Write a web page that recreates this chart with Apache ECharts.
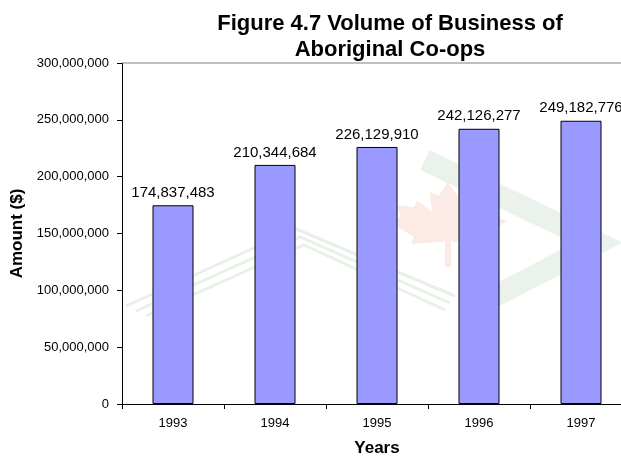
<!DOCTYPE html>
<html>
<head>
<meta charset="utf-8">
<script src="https://cdn.jsdelivr.net/npm/echarts@6/dist/echarts.min.js"></script>
<style>html,body{margin:0;padding:0;background:#fff;}#c{width:621px;height:459px;}</style>
</head>
<body>
<div id="c"></div>
<script>
var years = ['1993', '1994', '1995', '1996', '1997'];
var amounts = [174837483, 210344684, 226129910, 242126277, 249182776];
var yTicks = [0, 50000000, 100000000, 150000000, 200000000, 250000000, 300000000];

function fmt(v) { return String(v).replace(/\B(?=(\d{3})+(?!\d))/g, ','); }

// faint background watermark (decoration only)
var leafUnit = [[0,-1],[0.15,-0.7],[0.3,-0.78],[0.25,-0.35],[0.5,-0.6],[0.55,-0.45],[0.85,-0.5],[0.75,-0.25],[0.95,-0.15],[0.55,0.2],[0.6,0.35],[0.05,0.3],[0.05,0.85],[-0.05,0.85],[-0.05,0.3],[-0.6,0.35],[-0.55,0.2],[-0.95,-0.15],[-0.75,-0.25],[-0.85,-0.5],[-0.55,-0.45],[-0.5,-0.6],[-0.25,-0.35],[-0.3,-0.78],[-0.15,-0.7]];
var leafPts = leafUnit.map(function (p) { return [448 + p[0] * 62, 228 + p[1] * 46]; });
var wm = [
  {type: 'polygon', shape: {points: leafPts}, style: {fill: 'rgba(245,170,160,0.25)'}, z: 0, silent: true},
  {type: 'polyline', shape: {points: [[425,160],[598,243],[468,310]]}, style: {stroke: 'rgba(205,222,205,0.4)', lineWidth: 22, fill: null}, z: 0, silent: true},
  {type: 'polyline', shape: {points: [[126,306],[296,229],[455,296]]}, style: {stroke: 'rgba(205,225,205,0.45)', lineWidth: 3, fill: null}, z: 0, silent: true},
  {type: 'polyline', shape: {points: [[136,311],[300,237],[450,303]]}, style: {stroke: 'rgba(205,225,205,0.45)', lineWidth: 3, fill: null}, z: 0, silent: true},
  {type: 'polyline', shape: {points: [[146,316],[304,245],[445,310]]}, style: {stroke: 'rgba(205,225,205,0.45)', lineWidth: 3, fill: null}, z: 0, silent: true},
  {type: 'line', shape: {x1: 122, y1: 63, x2: 621, y2: 63}, style: {stroke: '#808080', lineWidth: 1}, z: 1, silent: true}
];

var chart = echarts.init(document.getElementById('c'), null, {renderer: 'canvas'});
chart.setOption({
  backgroundColor: '#ffffff',
  animation: false,
  textStyle: {fontFamily: 'Liberation Sans, Arial, sans-serif'},
  title: {
    text: 'Figure 4.7 Volume of Business of\nAboriginal Co-ops',
    left: 385, top: 6, textAlign: 'center',
    textStyle: {fontFamily: 'Liberation Sans, Arial, sans-serif', fontSize: 22, fontWeight: 'bold', color: '#000', lineHeight: 26}
  },
  graphic: wm,
  grid: {left: 122, top: 63, width: 510, height: 341, containLabel: false, outerBoundsMode: 'none'},
  xAxis: {
    type: 'category', data: years, boundaryGap: true,
    name: 'Years', nameLocation: 'middle', nameGap: 36,
    nameTextStyle: {fontSize: 17, fontWeight: 'bold', color: '#000', fontFamily: 'Liberation Sans, Arial, sans-serif'},
    axisLine: {lineStyle: {color: '#000', width: 1}},
    axisTick: {show: true, length: 5, lineStyle: {color: '#000'}},
    axisLabel: {fontSize: 13, color: '#000', margin: 13}
  },
  yAxis: {
    type: 'value', min: 0, max: 300000000, interval: 50000000,
    name: 'Amount ($)', nameLocation: 'middle', nameGap: 93,
    nameTextStyle: {fontSize: 17, fontWeight: 'bold', color: '#000', fontFamily: 'Liberation Sans, Arial, sans-serif'},
    axisLine: {show: true, lineStyle: {color: '#000', width: 1}},
    axisTick: {show: true, length: 5, lineStyle: {color: '#000'}},
    splitLine: {show: false},
    axisLabel: {fontSize: 13, color: '#000', margin: 13, formatter: function (v) { return yTicks.indexOf(v) >= 0 ? fmt(v) : ''; }}
  },
  series: [{
    type: 'bar', data: amounts, barWidth: 41, z: 2,
    itemStyle: {color: '#9999ff', borderColor: '#000', borderWidth: 1},
    label: {show: true, position: 'top', distance: 5, fontSize: 15, color: '#000', formatter: function (p) { return fmt(p.value); }}
  }]
});
</script>
</body>
</html>
